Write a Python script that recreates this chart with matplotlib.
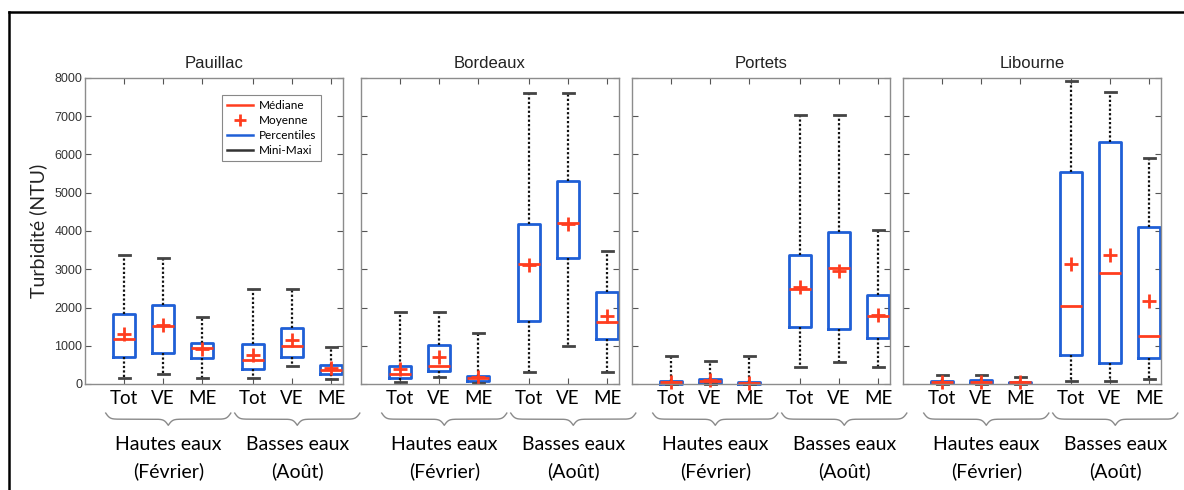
import numpy as np
import matplotlib
matplotlib.use("Agg")
import matplotlib.pyplot as plt
from matplotlib.lines import Line2D
from matplotlib.transforms import blended_transform_factory

# Données (NTU)
sites = ["Pauillac", "Bordeaux", "Portets", "Libourne"]
categories = ["Tot", "VE", "ME", "Tot", "VE", "ME"]
saisons = [("Hautes eaux", "(Février)"), ("Basses eaux", "(Août)")]

mini = [
    [150, 270, 150, 150, 460, 130],
    [40, 170, 30, 310, 990, 310],
    [0, 0, 0, 450, 580, 450],
    [0, 0, 0, 90, 90, 140],
]
q1 = [
    [715, 820, 690, 390, 700, 270],
    [160, 350, 80, 1640, 3290, 1170],
    [0, 30, 0, 1480, 1450, 1190],
    [17, 25, 15, 770, 540, 690],
]
mediane = [
    [1180, 1510, 940, 640, 1000, 360],
    [260, 480, 150, 3150, 4200, 1620],
    [45, 85, 25, 2475, 3030, 1790],
    [50, 60, 45, 2030, 2890, 1260],
]
q3 = [
    [1830, 2060, 1080, 1050, 1460, 490],
    [480, 1020, 210, 4170, 5300, 2410],
    [90, 140, 60, 3360, 3970, 2330],
    [80, 95, 60, 5530, 6330, 4100],
]
maxi = [
    [3380, 3300, 1760, 2475, 2475, 960],
    [1890, 1890, 1330, 7610, 7610, 3470],
    [720, 600, 720, 7020, 7020, 4020],
    [235, 235, 185, 7930, 7630, 5900],
]
moyenne = [
    [1320, 1550, 910, 760, 1160, 420],
    [390, 710, 170, 3120, 4180, 1780],
    [45, 110, 25, 2540, 2960, 1800],
    [50, 60, 45, 3140, 3380, 2180],
]

# mise en page
positions = [1, 2, 3, 4.3, 5.3, 6.3]
rouge = "#ff3d1f"
bleu = "#1f5fd6"
gris_axe = "#8c8c8c"
police_txt = "Lato"
police_axe = "Liberation Sans"

W, H = 1184, 490
fig = plt.figure(figsize=(W / 100, H / 100), dpi=100)
fig.patch.set_facecolor("white")

lefts = [85, 361, 632, 903]
ax_top, ax_bot, ax_w = 78, 384, 258


def accolade(ax, xc, demi, y0, prof):
    # accolade horizontale, pointe vers le bas
    trans = blended_transform_factory(ax.transData, ax.transAxes)
    u = np.linspace(0, 1, 150)
    b = 30
    yh = 1 / (1 + np.exp(-b * u)) + 1 / (1 + np.exp(-b * (u - 1))) - 0.5
    xs = np.concatenate([xc - demi + u * demi, xc + demi - u[::-1] * demi])
    ys = np.concatenate([y0 - prof * yh, y0 - prof * yh[::-1]])
    ax.plot(xs, ys, color="#8a8a8a", lw=1.0, transform=trans, clip_on=False)


for i, site in enumerate(sites):
    ax = fig.add_axes([lefts[i] / W, 1 - ax_bot / H, ax_w / W, (ax_bot - ax_top) / H])
    stats = []
    for j in range(len(categories)):
        stats.append(dict(whislo=mini[i][j], q1=q1[i][j], med=mediane[i][j],
                          q3=q3[i][j], whishi=maxi[i][j], mean=moyenne[i][j],
                          fliers=[]))
    arts = ax.bxp(stats, positions=positions, widths=0.56, capwidths=0.28,
                  showmeans=True, showfliers=False, manage_ticks=False,
                  boxprops=dict(color=bleu, lw=2),
                  whiskerprops=dict(color="#111111", lw=1.6, linestyle=(0, (1, 1))),
                  capprops=dict(color="#444444", lw=2),
                  medianprops=dict(color=rouge, lw=2),
                  meanprops=dict(marker="+", markeredgecolor=rouge, markersize=10,
                                 markeredgewidth=2))
    for k in arts:
        for a in arts[k]:
            a.set_clip_on(False)

    ax.set_xlim(0, 6.6)
    ax.set_ylim(0, 8000)
    ax.set_yticks(np.arange(0, 8001, 1000))
    ax.set_xticks(positions)
    ax.set_xticklabels(categories, fontfamily=police_txt, fontsize=13.5, color="#000000")
    ax.tick_params(axis="both", direction="in", top=True, right=True, length=4,
                   width=0.8, color="#555555")
    ax.tick_params(axis="x", pad=4)
    ax.tick_params(axis="y", pad=2, labelsize=9, labelcolor="#333333")
    for lab in ax.get_yticklabels():
        lab.set_fontfamily(police_axe)
    if i > 0:
        ax.set_yticklabels([])
    for sp in ax.spines.values():
        sp.set_color(gris_axe)
        sp.set_linewidth(1.0)
    ax.set_title(site, fontfamily=police_axe, fontsize=12, color="#222222", pad=7)

    # accolades et saisons
    trans = blended_transform_factory(ax.transData, ax.transAxes)
    for g, (l1, l2) in enumerate(saisons):
        xc = np.mean(positions[3 * g:3 * g + 3]) + 0.13
        accolade(ax, xc, 1.6, -0.095, 0.04)
        ax.text(xc, -0.199, l1, transform=trans, ha="center", va="center",
                fontfamily=police_txt, fontsize=14, color="#000000")
        ax.text(xc, -0.284, l2, transform=trans, ha="center", va="center",
                fontfamily=police_txt, fontsize=14, color="#000000")

    if i == 0:
        ax.set_ylabel("Turbidité (NTU)", fontfamily=police_txt, fontsize=14,
                      color="#222222")
        ax.yaxis.set_label_coords(-0.145, 0.5)
        poignees = [
            Line2D([], [], color=rouge, lw=1.8),
            Line2D([], [], color=rouge, marker="+", linestyle="none",
                   markersize=9, markeredgewidth=2),
            Line2D([], [], color=bleu, lw=1.8),
            Line2D([], [], color="#333333", lw=1.8),
        ]
        leg = ax.legend(poignees, ["Médiane", "Moyenne", "Percentiles", "Mini-Maxi"],
                        loc="upper left", bbox_to_anchor=(0.531, 0.944),
                        borderaxespad=0, fancybox=False, framealpha=1,
                        edgecolor="#888888", handlelength=2.2, handletextpad=0.5,
                        labelspacing=0.35, borderpad=0.4,
                        prop=dict(family=police_txt, size=8.5))
        leg.get_frame().set_linewidth(0.8)

# cadre noir (haut et gauche)
fig.add_artist(Line2D([9 / W, 1], [1 - 12 / H, 1 - 12 / H], color="black", lw=1.8,
                      transform=fig.transFigure))
fig.add_artist(Line2D([9 / W, 9 / W], [0, 1 - 12 / H], color="black", lw=1.8,
                      transform=fig.transFigure))

fig.savefig("out.png", dpi=100)
